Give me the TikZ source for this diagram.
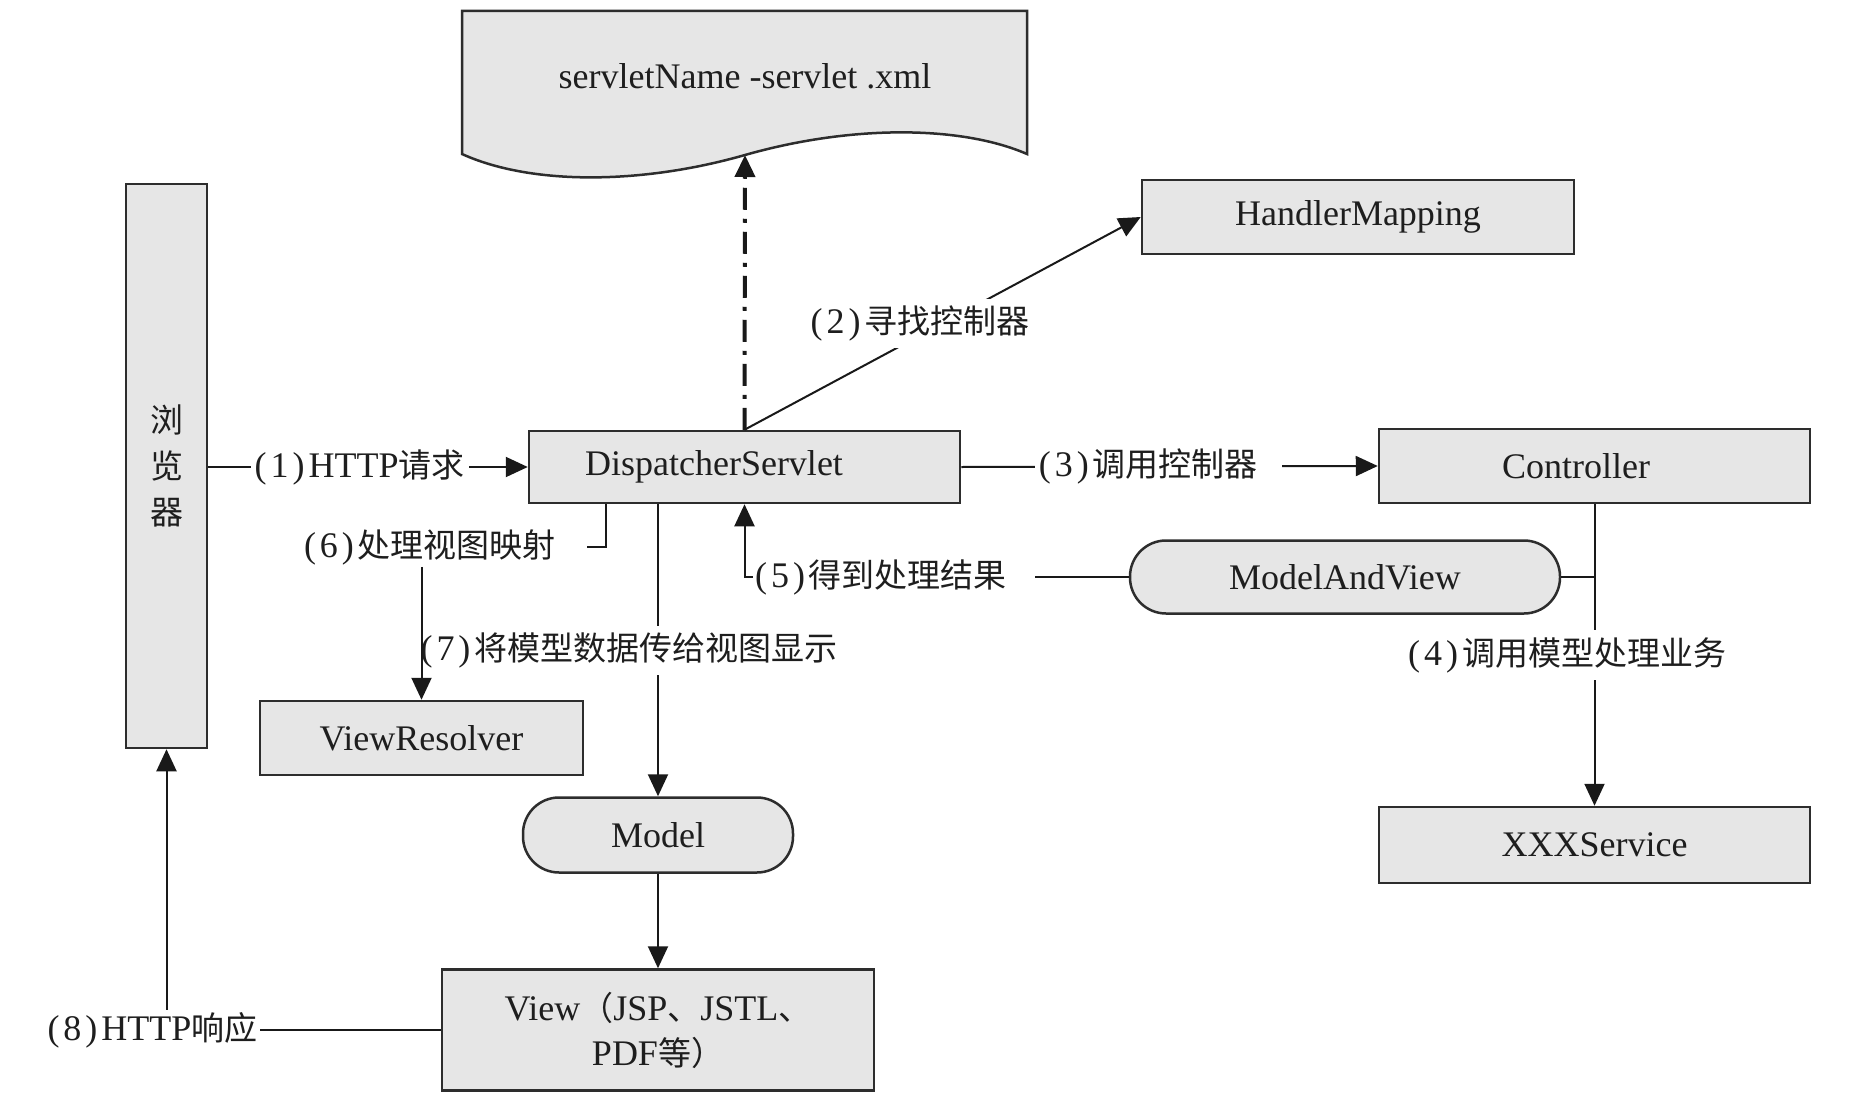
\documentclass[tikz,border=0pt]{standalone}
\usepackage{fontspec}
\setmainfont{Liberation Serif}
\newfontfamily\cjkf{Noto Sans CJK SC}
\usetikzlibrary{arrows.meta}
\newcommand\zh[1]{{\cjkf\fontsize{33}{40}\selectfont #1}}
\newcommand\numlbl[1]{(\kern4pt#1\kern4pt)\kern4pt}
\definecolor{boxc}{RGB}{230,230,230}
\definecolor{bordc}{RGB}{45,45,45}
\definecolor{linec}{RGB}{25,25,25}
\definecolor{txtc}{RGB}{30,30,30}
\begin{document}
\begin{tikzpicture}[x=1pt,y=-1pt,
  box/.style={draw=bordc, fill=boxc, line width=2.5pt, inner sep=0pt, text=txtc, font=\fontsize{36}{44}\selectfont},
  pill/.style={box, rounded corners=36pt},
  conn/.style={draw=linec, line width=2pt},
  arr/.style={conn, -{Triangle[length=22pt,width=20pt]}},
  txt/.style={text=txtc, font=\fontsize{36}{44}\selectfont, inner sep=0pt},
  lbl/.style={text=txtc, font=\fontsize{36}{44}\selectfont, inner xsep=2pt, inner ysep=2pt},
  wlbl/.style={lbl, fill=white, inner xsep=4pt, inner ysep=7pt},
]
\fill[white] (0,0) rectangle (1858,1108);
\useasboundingbox (0,0) rectangle (1858,1108);

% document shape
\filldraw[draw=bordc, fill=boxc, line width=2.5pt] (462,11) -- (1027,11) -- (1027,154)
  .. controls (960,125) and (850,125) .. (745,155)
  .. controls (640,185) and (530,185) .. (462,154) -- cycle;
\node[txt] (doc) at (745,76) {servletName -servlet .xml};
\coordinate (docb) at (745,155);

% nodes
\node[box, minimum width=81pt, minimum height=564pt, align=center, font=\fontsize{36}{46}\selectfont] (br) at (166.5,466) {\zh{浏}\\\zh{览}\\\zh{器}};
\node[box, minimum width=431pt, minimum height=72pt] (ds) at (744.5,467) {};
\node[txt] (dst) at (714,467) {DispatcherServlet};
\node[box, minimum width=432pt, minimum height=74pt] (hm) at (1358,217) {HandlerMapping};
\node[box, minimum width=431pt, minimum height=74pt] (ctrl) at (1594.5,466) {};
\node[txt] (ctrlt) at (1576,466) {Controller};
\node[pill, minimum width=430pt, minimum height=73pt] (mav) at (1345,577) {ModelAndView};
\node[box, minimum width=431pt, minimum height=76pt] (xxx) at (1594.5,845) {XXXService};
\node[box, minimum width=323pt, minimum height=74pt] (vr) at (421.5,738) {ViewResolver};
\node[pill, minimum width=270pt, minimum height=75pt] (model) at (658,835) {Model};
\node[box, minimum width=432pt, minimum height=121pt, align=center, font=\fontsize{36}{45}\selectfont] (view) at (658,1030) {View\zh{（}JSP\zh{、}JSTL\zh{、}\\PDF\zh{等）}};

% dash-dot to config file
\draw[conn, line width=4pt, dash pattern=on 22pt off 9pt on 4pt off 9pt, -{Triangle[length=22pt,width=20pt]}] (ds.north) -- (docb);

% (1)
\draw[arr] (br.east |- ds.west) -- node[wlbl, pos=0.474]{\numlbl{1}HTTP\zh{请求}} (ds.west);
% (2)
\draw[arr] (ds.north) -- node[wlbl, xshift=-22.5pt]{\numlbl{2}\zh{寻找控制器}} (hm.west);
% (3)
\draw[arr] (ds.east) -- node[wlbl, pos=0.473]{\numlbl{3}\zh{调用控制器}\kern20pt} (ctrl.west);
% (4)
\draw[arr] (ctrl.south) -- node[wlbl, pos=0.5, xshift=-27.5pt]{\numlbl{4}\zh{调用模型处理业务}} (xxx.north);
\draw[conn] (mav.east) -- (mav.east -| ctrl.south);
% (5)
\node[lbl] (l5) at (894,577) {\numlbl{5}\zh{得到处理结果}\kern26pt};
\draw[conn] (mav.west) -- (l5.east);
\draw[arr] (l5.west) -| (ds.south);
% (7)
\draw[arr] (ds.south -| model.north) -- node[wlbl, pos=0.5, xshift=-29pt]{\numlbl{7}\zh{将模型数据传给视图显示}} (model.north);
% (6)
\node[lbl] (l6) at (430,547) {\numlbl{6}\zh{处理视图映射}};
\draw[conn] ([xshift=-138.5pt]ds.south) |- ([xshift=29pt]l6.east);
\draw[arr] (l6.south -| vr.north) -- (vr.north);
% model -> view
\draw[arr] (model.south) -- (view.north);
% (8)
\node[lbl] (l8) at (152.5,1030) {\numlbl{8}HTTP\zh{响应}};
\draw[conn] (view.west) -- (l8.east);
\draw[arr] (l8.north -| br.south) -- (br.south);
\end{tikzpicture}
\end{document}
